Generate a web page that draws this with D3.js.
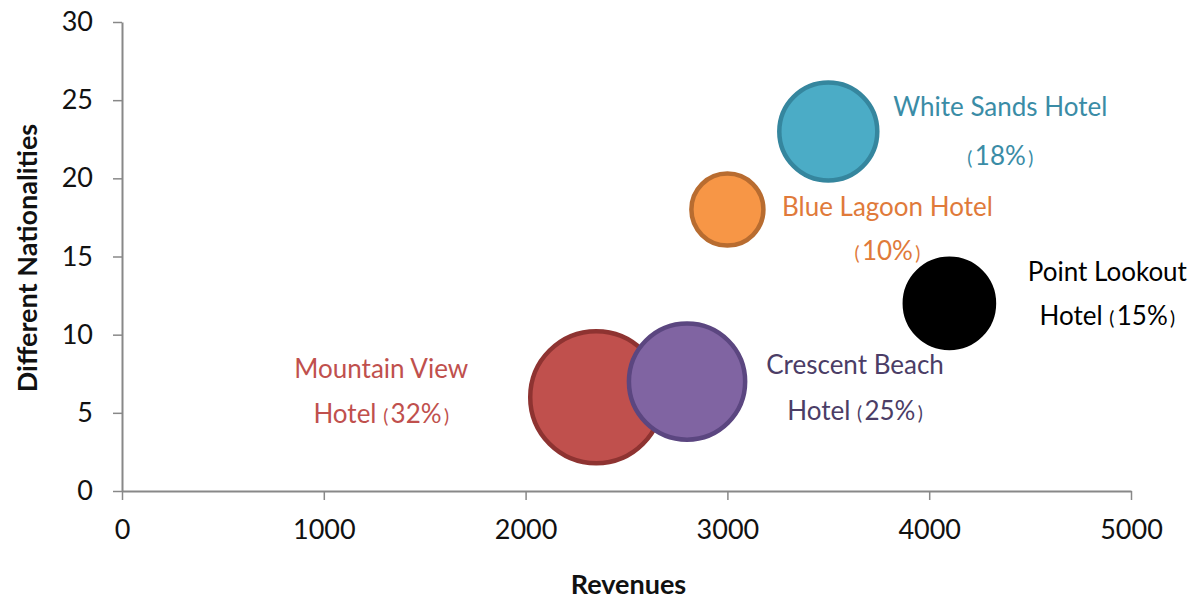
<!DOCTYPE html>
<html>
<head>
<meta charset="utf-8">
<script src="https://cdn.jsdelivr.net/npm/d3@7"></script>
<style>
  body { margin: 0; background: #fff; }
  svg { font-family: Lato, "Open Sans", sans-serif; }
</style>
</head>
<body>
<svg id="chart"></svg>
<script>
// hotels, revenues (x), nationalities (y), share (bubble size)
var hotels = ["White Sands Hotel", "Blue Lagoon Hotel", "Point Lookout Hotel", "Mountain View Hotel", "Crescent Beach Hotel"];
var revenues = [3500, 3000, 4100, 2350, 2800];
var nationalities = [23, 18, 12, 6, 7];
var shares = [18, 10, 15, 32, 25];
var labelLines = [
  ["White Sands Hotel", ""],
  ["Blue Lagoon Hotel", ""],
  ["Point Lookout", "Hotel"],
  ["Mountain View", "Hotel"],
  ["Crescent Beach", "Hotel"]
];
var xTicks = [0, 1000, 2000, 3000, 4000, 5000];
var yTicks = [0, 5, 10, 15, 20, 25, 30];

var fills = ["#4bacc6", "#f79646", "#000000", "#c0504d", "#8064a2"];
var strokes = ["#35869e", "#b86c30", "#000000", "#8e3331", "#5b4680"];
var textColors = ["#3a8ca6", "#e07a3a", "#000000", "#c0504d", "#4b3d66"];
// label anchor offsets relative to bubble centre, in px
var labelDx = [172, 160, 158, -215, 168];
var labelDy = [-15, 6, -22, -19, -8];
var lineGap = [49, 44, 44, 45, 46];

var width = 1198, height = 601;
var margin = {top: 22, right: 67, bottom: 110, left: 122};

var svg = d3.select("#chart").attr("width", width).attr("height", height);

var x = d3.scaleLinear().domain([0, 5000]).range([margin.left, width - margin.right]);
var y = d3.scaleLinear().domain([0, 30]).range([height - margin.bottom, margin.top]);
var r = d3.scaleSqrt().domain([0, 32]).range([0, 68]);

var xAxis = svg.append("g")
  .attr("transform", "translate(0," + (height - margin.bottom) + ")")
  .call(d3.axisBottom(x).tickValues(xTicks).tickFormat(d3.format("d"))
    .tickSize(9).tickSizeOuter(0).tickPadding(20));

var yAxis = svg.append("g")
  .attr("transform", "translate(" + margin.left + ",0)")
  .call(d3.axisLeft(y).tickValues(yTicks).tickSize(9).tickSizeOuter(0).tickPadding(20));

[xAxis, yAxis].forEach(function(ax) {
  ax.select(".domain").attr("stroke", "#888").attr("stroke-width", 2);
  ax.selectAll(".tick line").attr("stroke", "#888").attr("stroke-width", 1.5);
  ax.selectAll(".tick text").attr("fill", "#111").style("font-size", "27px").style("font-family", "Lato, sans-serif");
});

svg.append("text")
  .attr("x", (margin.left + width - margin.right) / 2 + 2)
  .attr("y", 594)
  .attr("text-anchor", "middle")
  .style("font-weight", "bold").style("font-size", "27px")
  .attr("fill", "#111")
  .text("Revenues");

svg.append("text")
  .attr("transform", "translate(37," + 258 + ") rotate(-90)")
  .attr("text-anchor", "middle")
  .style("font-weight", "bold").style("font-size", "27px")
  .attr("fill", "#111")
  .text("Different Nationalities");

var idx = d3.range(hotels.length);
// drawing order: mountain view under crescent beach
var order = [3, 4, 0, 2, 1];

svg.append("g").selectAll("circle")
  .data(order)
  .join("circle")
  .attr("cx", function(i) { return x(revenues[i]); })
  .attr("cy", function(i) { return y(nationalities[i]); })
  .attr("r", function(i) { return r(shares[i]) - 2; })
  .attr("fill", function(i) { return fills[i]; })
  .attr("stroke", function(i) { return strokes[i]; })
  .attr("stroke-width", 4.5);

var labels = svg.append("g").selectAll("text")
  .data(idx)
  .join("text")
  .attr("text-anchor", "middle")
  .attr("fill", function(i) { return textColors[i]; })
  .style("font-size", "26px")
  .attr("transform", function(i) {
    return "translate(" + (x(revenues[i]) + labelDx[i]) + "," + (y(nationalities[i]) + labelDy[i]) + ")";
  });

labels.append("tspan")
  .attr("x", 0).attr("dy", 0)
  .text(function(i) { return labelLines[i][0]; });

var line2 = labels.append("tspan")
  .attr("x", 0).attr("dy", function(i) { return lineGap[i]; });
line2.append("tspan").text(function(i) { return labelLines[i][1] ? labelLines[i][1] + " " : ""; });
line2.append("tspan").style("font-size", "19px").text("(\u2009");
line2.append("tspan").text(function(i) { return shares[i] + "%"; });
line2.append("tspan").style("font-size", "19px").text("\u2009)");
</script>
</body>
</html>
